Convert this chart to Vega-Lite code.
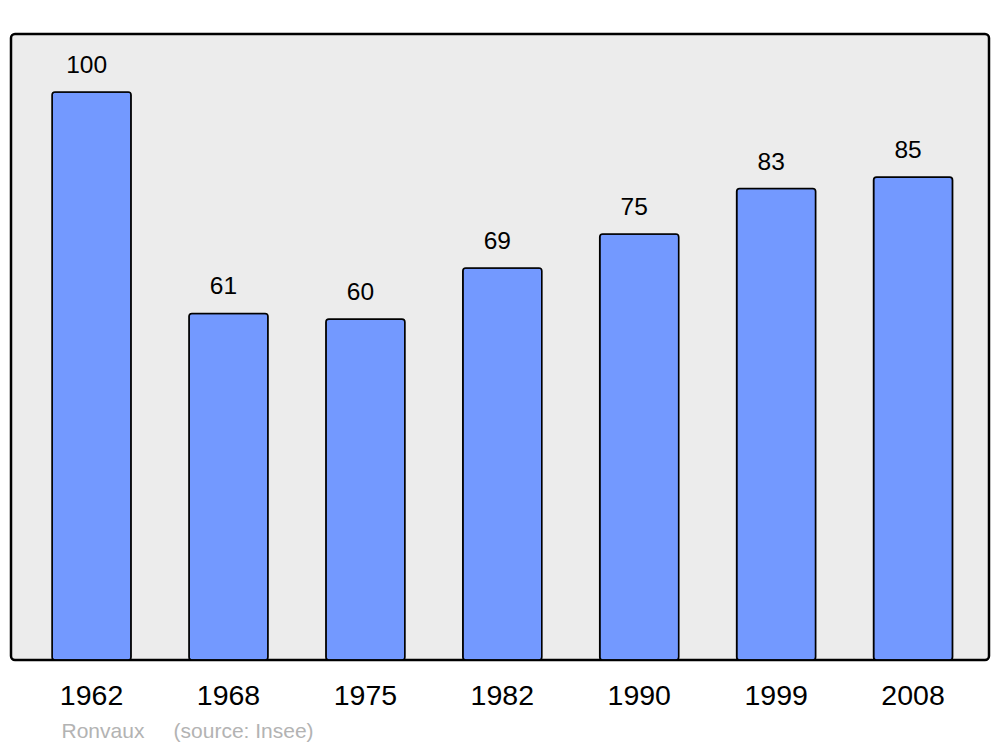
{
  "$schema": "https://vega.github.io/schema/vega-lite/v6.json",
  "width": 978,
  "height": 626,
  "autosize": {"type": "none"},
  "padding": {"left": 11, "top": 34, "right": 11, "bottom": 87},
  "background": "white",
  "config": {
    "font": "Liberation Sans",
    "view": {"fill": "#ececec", "stroke": "black", "strokeWidth": 2.5, "cornerRadius": 4}
  },
  "data": {
    "values": [
      {"year": "1962", "pop": 100},
      {"year": "1968", "pop": 61},
      {"year": "1975", "pop": 60},
      {"year": "1982", "pop": 69},
      {"year": "1990", "pop": 75},
      {"year": "1999", "pop": 83},
      {"year": "2008", "pop": 85}
    ]
  },
  "encoding": {
    "x": {
      "field": "year",
      "type": "nominal",
      "sort": null,
      "scale": {"paddingInner": 0.423, "paddingOuter": 0.283, "align": 0.53},
      "axis": {
        "domain": false,
        "ticks": false,
        "labelAngle": 0,
        "labelFontSize": 28.5,
        "labelColor": "black",
        "labelPadding": 21,
        "title": "Ronvaux\u00a0\u00a0\u00a0\u00a0\u00a0(source: Insee)",
        "titleX": 50,
        "titleY": 77,
        "titleAlign": "left",
        "titleBaseline": "alphabetic",
        "titleFontWeight": "normal",
        "titleFontSize": 21,
        "titleColor": "#b3b3b3"
      }
    },
    "y": {
      "field": "pop",
      "type": "quantitative",
      "scale": {"domain": [0, 110.2], "nice": false},
      "axis": null
    }
  },
  "layer": [
    {
      "mark": {"type": "bar", "fill": "#7399ff", "stroke": "black", "strokeWidth": 1.6, "cornerRadius": 3}
    },
    {
      "mark": {"type": "text", "fontSize": 24.5, "baseline": "alphabetic", "dy": -19, "dx": -5, "color": "black"},
      "encoding": {"text": {"field": "pop", "type": "quantitative"}}
    }
  ]
}
